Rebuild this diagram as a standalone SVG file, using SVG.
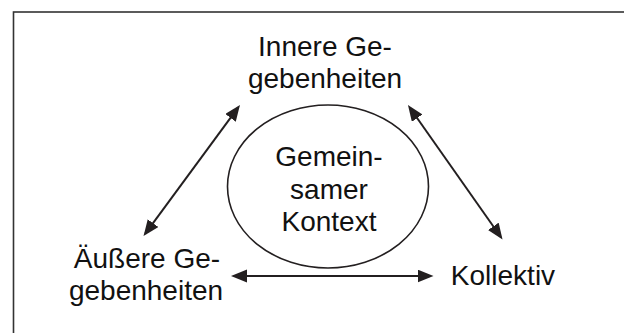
<svg xmlns="http://www.w3.org/2000/svg" width="624" height="333" viewBox="0 0 624 333">
  <style>
    .lbl { font-family: "Liberation Sans", Arial, sans-serif; font-size: 28px; fill: #111; text-anchor: middle; }
    .link { stroke: #231f20; stroke-width: 2; fill: none; marker-start: url(#head); marker-end: url(#head); }
  </style>
  <defs>
    <marker id="head" markerUnits="userSpaceOnUse" markerWidth="17" markerHeight="14" refX="13" refY="6.5" orient="auto-start-reverse" viewBox="0 0 17 14">
      <path d="M0,0 L16,6.5 L0,13 Z" fill="#231f20"/>
    </marker>
  </defs>

  <rect width="624" height="333" fill="#fff"/>
  <!-- page frame, open to the right and bottom -->
  <rect x="13.5" y="12" width="640" height="340" fill="none" stroke="#333" stroke-width="1.6"/>

  <g id="connectors">
    <line class="link" x1="145.3" y1="233.6" x2="238.2" y2="107.4"/>
    <line class="link" x1="409.7" y1="107.5" x2="500.8" y2="237.0"/>
    <line class="link" x1="234" y1="276" x2="430.5" y2="276"/>
  </g>

  <g id="context">
    <ellipse cx="328" cy="186.5" rx="100.5" ry="81.5" fill="none" stroke="#231f20" stroke-width="1.6"/>
    <text class="lbl" x="329" y="166">Gemein-</text>
    <text class="lbl" x="329" y="198.5">samer</text>
    <text class="lbl" x="329" y="231">Kontext</text>
  </g>

  <g id="inner">
    <text class="lbl" x="325" y="56">Innere Ge-</text>
    <text class="lbl" x="325" y="88">gebenheiten</text>
  </g>

  <g id="outer">
    <text class="lbl" x="147" y="268">Äußere Ge-</text>
    <text class="lbl" x="146" y="300">gebenheiten</text>
  </g>

  <g id="collective">
    <text class="lbl" x="503" y="285">Kollektiv</text>
  </g>
</svg>
